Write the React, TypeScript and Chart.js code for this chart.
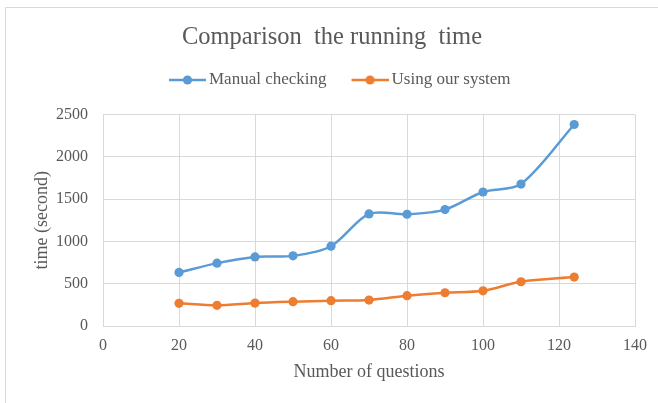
import React, { useEffect, useRef } from "react";
import { Chart, registerables } from "chart.js";

Chart.register(...registerables);

const questions = [20, 30, 40, 50, 60, 70, 80, 90, 100, 110, 124];
const manualChecking = [633, 743, 817, 829, 943, 1325, 1321, 1376, 1584, 1678, 2382];
const usingOurSystem = [268, 244, 271, 287, 299, 307, 358, 393, 416, 523, 578];
const seriesNames = ["Manual checking", "Using our system"];
const seriesColors = ["#5B9BD5", "#ED7D31"];

const FONT = "'Liberation Serif', 'Times New Roman', serif";
const TEXT = "#595959";
const GRID = "#D9D9D9";

// legend marker: 37px line with a dot, drawn on the right part of a 58px canvas
function makeMarker(color: string): HTMLCanvasElement {
  const c = document.createElement("canvas");
  c.width = 58;
  c.height = 12;
  const ctx = c.getContext("2d")!;
  ctx.strokeStyle = color;
  ctx.lineWidth = 2.5;
  ctx.beginPath();
  ctx.moveTo(21, 6);
  ctx.lineTo(58, 6);
  ctx.stroke();
  ctx.fillStyle = color;
  ctx.beginPath();
  ctx.arc(39.5, 6, 4.6, 0, Math.PI * 2);
  ctx.fill();
  return c;
}

const framePlugin = {
  id: "frame",
  beforeDraw(chart: any) {
    const ctx = chart.ctx;
    ctx.save();
    ctx.strokeStyle = GRID;
    ctx.lineWidth = 1;
    ctx.beginPath();
    ctx.moveTo(5.5, 403);
    ctx.lineTo(5.5, 7.5);
    ctx.lineTo(658, 7.5);
    ctx.stroke();
    ctx.restore();
  },
};

export default function App() {
  const ref = useRef<HTMLCanvasElement | null>(null);
  useEffect(() => {
    if (!ref.current) return;
    const markers = seriesColors.map(makeMarker);
    const toPts = (arr: number[]) => questions.map((x, i) => ({ x, y: arr[i] }));
    const chart = new Chart(ref.current, {
      type: "line",
      data: {
        datasets: [manualChecking, usingOurSystem].map((vals, i) => ({
          label: seriesNames[i],
          data: toPts(vals),
          borderColor: seriesColors[i],
          backgroundColor: seriesColors[i],
          borderWidth: 2.5,
          pointRadius: 4.6,
          pointHoverRadius: 4.6,
          pointBorderWidth: 0,
          tension: 0.3,
          fill: false,
        })),
      },
      options: {
        animation: false,
        responsive: false,
        maintainAspectRatio: false,
        layout: { padding: { top: 0, left: 29, right: 23, bottom: 0 } },
        plugins: {
          tooltip: { enabled: false },
          title: {
            display: true,
            text: "Comparison  the running  time",
            color: TEXT,
            font: { family: FONT, size: 24.5, weight: "normal", lineHeight: 1.2 },
            padding: { top: 22.5, bottom: 10.1 },
          },
          legend: {
            display: true,
            position: "top",
            labels: {
              color: TEXT,
              font: { family: FONT, size: 17 },
              usePointStyle: true,
              pointStyleWidth: 47,
              padding: 9.5,
              generateLabels: (ch: any) => {
                const items = (Chart.defaults as any).plugins.legend.labels.generateLabels(ch);
                return items.map((it: any) => ({ ...it, pointStyle: markers[it.datasetIndex] }));
              },
            },
          },
          subtitle: {
            display: true,
            text: " ",
            font: { family: FONT, size: 1, lineHeight: 1 },
            padding: { top: 15, bottom: 0 },
            weight: 500,
          } as any,
        },
        scales: {
          x: {
            type: "linear",
            min: 0,
            max: 140,
            ticks: {
              stepSize: 20,
              color: TEXT,
              font: { family: FONT, size: 16 },
              padding: 10,
              maxRotation: 0,
            },
            grid: { color: GRID, drawTicks: false, lineWidth: 1 },
            border: { color: GRID },
            title: {
              display: true,
              text: "Number of questions",
              color: TEXT,
              font: { family: FONT, size: 18 },
              padding: { top: 6, bottom: 20.2 },
            },
            afterFit: (s: any) => {
              s.height = 77;
            },
          },
          y: {
            min: 0,
            max: 2500,
            ticks: {
              stepSize: 500,
              color: TEXT,
              font: { family: FONT, size: 16 },
              padding: 15,
              callback: (v: any) => String(v),
            },
            grid: { color: GRID, drawTicks: false, lineWidth: 1 },
            border: { color: GRID },
            title: {
              display: true,
              text: "time (second)",
              color: TEXT,
              font: { family: FONT, size: 18 },
              padding: { top: 2.2, bottom: 0 },
            },
            afterFit: (s: any) => {
              s.width = 74;
            },
          },
        },
      },
      plugins: [framePlugin],
    });
    return () => chart.destroy();
  }, []);
  return (
    <div style={{ position: "absolute", left: 0, top: 0, width: 658, height: 403, background: "#fff" }}>
      <canvas ref={ref} width={658} height={403} style={{ display: "block" }} />
    </div>
  );
}
